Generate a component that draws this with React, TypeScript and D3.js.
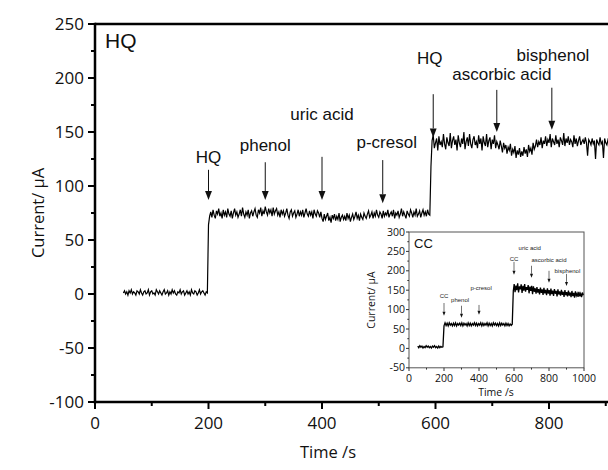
import React from 'react';
import * as d3 from 'd3';

// ---------- Main chart data (HQ) ----------
const hqBaseStart = 50;
const hqBaseStep = 2;
const hqBaseline = [
  1,3,0,2,-1,3,1,4,0,2,1,-1,3,2,0,4,1,-1,2,3,0,1,4,-1,2,
  3,0,1,-1,4,2,0,3,1,-1,2,4,0,1,3,-1,2,0,4,1,3,0,-1,2,1,
  4,0,2,3,-1,1,3,0,2,-1,4,1,0,3,2,-1,1,4,0,2,3,1,-1,2,1];
const hqStep1Start = 200;
const hqStep1Step = 2;
const hqStep1 = [
  64,72,76,71,78,73,70,77,74,79,72,75,70,78,73,76,71,79,74,72,
  77,70,75,79,73,76,71,74,78,72,80,74,71,76,73,78,70,75,77,72,
  76,79,73,71,78,75,80,72,77,74,81,76,73,79,75,78,72,80,74,77,
  79,73,76,71,78,74,77,72,75,79,73,70,76,78,72,75,77,71,74,78,
  72,76,73,78,71,75,79,74,72,77,73,76,70,78,74,72,77,75,71,76,
  70,67,74,69,72,75,68,71,66,73,70,74,68,72,69,75,67,71,73,69,
  72,68,75,70,73,67,71,74,69,72,76,70,73,68,74,71,69,75,72,70,
  74,77,71,73,76,70,75,72,78,73,71,76,74,70,77,72,75,73,78,71,
  74,76,72,78,70,75,73,77,71,74,79,72,76,73,70,77,74,72,78,75,
  71,76,73,79,72,74,77,71,75,78,73,76,72,78,74,73];
const hqStep2Start = 592;
const hqStep2Step = 2;
const hqStep2 = [
  118,142,147,135,140,144,133,146,138,141,136,148,139,134,145,140,137,149,135,142,
  146,138,143,133,147,140,136,144,139,150,134,141,145,137,148,139,135,143,146,138,
  141,135,147,139,144,133,146,140,137,148,136,142,145,134,143,139,147,135,141,138,
  134,142,137,131,140,135,138,130,136,133,139,128,134,131,137,126,133,129,135,127,
  132,128,136,130,134,127,138,132,135,129,140,134,137,143,136,141,138,145,135,142,
  139,146,137,143,140,148,136,144,141,138,147,139,143,136,145,142,138,149,137,144,
  140,146,138,143,141,136,147,139,144,137,142,146,138,141,143,139,145,140,128,143,
  141,138,144,139,142,125,143,140,138,145,139,141,126,144,140,138,143,141,129,142,
  140];

// ---------- Inset data (CC) ----------
const ccBaseStart = 50;
const ccBaseStep = 6;
const ccBaseline = [6,2,7,3,6,1,5,2,7,3,6,2,5,1,6,3,7,2,5,1,6,2,5,3,4];
const ccStep1Start = 200;
const ccStep1Step = 6;
const ccStep1 = [
  58,66,59,65,58,66,60,64,58,65,59,66,58,64,60,65,59,66,58,65,60,64,58,66,59,65,58,64,60,66,59,65,58,
  64,60,66,58,65,59,64,60,66,58,65,59,64,58,66,60,65,59,64,58,66,59,65,60,64,58,65,59,64,58,63,59,62];
const ccStep2Start = 596;
const ccStep2Step = 5;
const ccStep2 = [
  148,166,145,162,150,168,144,160,152,165,143,161,149,166,146,158,151,163,142,159,148,161,140,160,146,155,141,
  158,144,153,139,157,143,152,138,156,142,151,137,155,141,150,136,154,140,149,135,153,141,148,134,152,139,147,
  136,151,138,146,133,150,137,145,134,149,136,144,132,148,135,143,131,147,136,142,133,146,134,141,132,144,137];

// ---------- Ticks ----------
const mainYTicks = [-100, -50, 0, 50, 100, 150, 200, 250];
const mainYMinor = [-75, -25, 25, 75, 125, 175, 225];
const mainXTicks = [0, 200, 400, 600, 800, 1000];
const mainXMinor = [100, 300, 500, 700, 900];
const insetYTicks = [-50, 0, 50, 100, 150, 200, 250, 300];
const insetYMinor = [-25, 25, 75, 125, 175, 225, 275];
const insetXTicks = [0, 200, 400, 600, 800, 1000];
const insetXMinor = [100, 300, 500, 700, 900];

// ---------- Annotations (data units) ----------
const mainAnnLabels = ['HQ', 'phenol', 'uric acid', 'p-cresol', 'HQ', 'ascorbic acid', 'bisphenol'];
const mainAnnTime = [200, 300, 400, 507, 596, 708, 805];
const mainAnnTextTime = [200, 300, 400, 514, 590, 717, 807];
const mainAnnTextVal = [121, 132, 161, 135, 213, 198, 216];
const mainAnnTop = [115, 122, 127, 124, 185, 189, 191];
const mainAnnTip = [87, 87, 87, 84, 145, 150, 152];

const insetAnnLabels = ['CC', 'phenol', 'p-cresol', 'CC', 'uric acid', 'ascorbic acid', 'bisphenol'];
const insetAnnTime = [200, 300, 400, 600, 700, 800, 900];
const insetAnnTextTime = [200, 292, 412, 600, 690, 800, 905];
const insetAnnTextVal = [130, 119, 150, 226, 254, 223, 195];
const insetAnnTop = [117, 110, 112, 223, 213, 200, 192];
const insetAnnTip = [84, 79, 87, 190, 182, 169, 161];

function series(start: number, step: number, vals: number[]): [number, number][] {
  return vals.map((v, i) => [start + i * step, v]);
}

const hqData = [
  ...series(hqBaseStart, hqBaseStep, hqBaseline),
  ...series(hqStep1Start, hqStep1Step, hqStep1),
  ...series(hqStep2Start, hqStep2Step, hqStep2),
];
const ccData = [
  ...series(ccBaseStart, ccBaseStep, ccBaseline),
  ...series(ccStep1Start, ccStep1Step, ccStep1),
  ...series(ccStep2Start, ccStep2Step, ccStep2),
];

const TICK_FONT = "'Open Sans', 'DejaVu Sans', sans-serif";
const ANN_FONT = "'Liberation Sans', Arial, sans-serif";

function Arrow({ x, y1, y2, head, stroke }: { x: number; y1: number; y2: number; head: number; stroke: number }) {
  return (
    <g>
      <line x1={x} x2={x} y1={y1} y2={y2 - head} stroke="#111" strokeWidth={stroke} />
      <path d={`M${x - head * 0.38},${y2 - head} L${x + head * 0.38},${y2 - head} L${x},${y2} Z`} fill="#111" />
    </g>
  );
}

export default function App() {
  const W = 608, H = 470;
  const x = d3.scaleLinear().domain([0, 1000]).range([95, 662.5]);
  const y = d3.scaleLinear().domain([-100, 250]).range([402, 24]);
  const ix = d3.scaleLinear().domain([0, 1000]).range([409, 584]);
  const iy = d3.scaleLinear().domain([-50, 300]).range([367.8, 232]);

  const mainLine = d3.line<[number, number]>().x(d => x(d[0])).y(d => y(d[1]));
  const insetLine = d3.line<[number, number]>().x(d => ix(d[0])).y(d => iy(d[1]));

  return (
    <svg width={W} height={H} style={{ position: 'absolute', left: 0, top: 0, background: '#fff' }}>
      <defs>
        <clipPath id="mainClip">
          <rect x={95} y={24} width={W - 95} height={378} />
        </clipPath>
      </defs>
      <rect x={0} y={0} width={W} height={H} fill="#fff" />

      {/* main trace */}
      <path d={mainLine(hqData) || ''} fill="none" stroke="#000" strokeWidth={1.2} clipPath="url(#mainClip)" />

      {/* main axes */}
      <line x1={95} x2={W} y1={24} y2={24} stroke="#000" strokeWidth={2.5} />
      <line x1={95} x2={95} y1={22.8} y2={403.2} stroke="#000" strokeWidth={2.5} />
      <line x1={93.8} x2={W} y1={402} y2={402} stroke="#000" strokeWidth={2.5} />
      {mainYTicks.map(t => (
        <g key={'my' + t}>
          <line x1={88} x2={95} y1={y(t)} y2={y(t)} stroke="#000" strokeWidth={2} />
          <text x={84} y={y(t)} dy="0.35em" textAnchor="end" fontFamily={TICK_FONT} fontSize={17} fill="#111">{t}</text>
        </g>
      ))}
      {mainYMinor.map(t => (
        <line key={'mym' + t} x1={91} x2={95} y1={y(t)} y2={y(t)} stroke="#000" strokeWidth={2} />
      ))}
      {mainXTicks.filter(t => x(t) < W).map(t => (
        <g key={'mx' + t}>
          <line x1={x(t)} x2={x(t)} y1={402} y2={409} stroke="#000" strokeWidth={2} />
          <text x={x(t)} y={423} dy="0.35em" textAnchor="middle" fontFamily={TICK_FONT} fontSize={17} fill="#111">{t}</text>
        </g>
      ))}
      {mainXMinor.filter(t => x(t) < W).map(t => (
        <line key={'mxm' + t} x1={x(t)} x2={x(t)} y1={402} y2={406} stroke="#000" strokeWidth={2} />
      ))}
      <text transform={`translate(38,213) rotate(-90)`} textAnchor="middle" dy="0.35em" fontFamily={TICK_FONT} fontSize={16.5} fill="#111">Current/ µA</text>
      <text x={328} y={452} textAnchor="middle" dy="0.35em" fontFamily={TICK_FONT} fontSize={16.5} fill="#111">Time /s</text>
      <text x={105} y={48} fontFamily={ANN_FONT} fontSize={21} fill="#111">HQ</text>

      {/* main annotations */}
      {mainAnnLabels.map((lab, i) => (
        <g key={'ma' + i}>
          <text x={x(mainAnnTextTime[i])} y={y(mainAnnTextVal[i])} textAnchor="middle" fontFamily={ANN_FONT} fontSize={17} fill="#111">{lab}</text>
          <Arrow x={x(mainAnnTime[i])} y1={y(mainAnnTop[i])} y2={y(mainAnnTip[i])} head={9} stroke={1} />
        </g>
      ))}

      {/* inset */}
      <rect x={409} y={232} width={175} height={135.8} fill="#fff" stroke="#555" strokeWidth={1} />
      <path d={insetLine(ccData) || ''} fill="none" stroke="#000" strokeWidth={1.3} />
      {insetYTicks.map(t => (
        <g key={'iy' + t}>
          <line x1={406} x2={409} y1={iy(t)} y2={iy(t)} stroke="#333" strokeWidth={1} />
          <text x={405} y={iy(t)} dy="0.35em" textAnchor="end" fontFamily={TICK_FONT} fontSize={10.5} fill="#111">{t}</text>
        </g>
      ))}
      {insetYMinor.map(t => (
        <line key={'iym' + t} x1={407.3} x2={409} y1={iy(t)} y2={iy(t)} stroke="#333" strokeWidth={1} />
      ))}
      {insetXTicks.map(t => (
        <g key={'ix' + t}>
          <line x1={ix(t)} x2={ix(t)} y1={367.8} y2={371} stroke="#333" strokeWidth={1} />
          <text x={ix(t)} y={378.5} dy="0.35em" textAnchor="middle" fontFamily={TICK_FONT} fontSize={10.5} fill="#111">{t}</text>
        </g>
      ))}
      {insetXMinor.map(t => (
        <line key={'ixm' + t} x1={ix(t)} x2={ix(t)} y1={367.8} y2={369.6} stroke="#333" strokeWidth={1} />
      ))}
      <text transform={`translate(371,300) rotate(-90)`} textAnchor="middle" dy="0.35em" fontFamily={TICK_FONT} fontSize={10.5} fill="#111">Current/ µA</text>
      <text x={496} y={392} textAnchor="middle" dy="0.35em" fontFamily={TICK_FONT} fontSize={10.5} fill="#111">Time /s</text>
      <text x={414} y={248} fontFamily={ANN_FONT} fontSize={13} fill="#111">CC</text>
      {insetAnnLabels.map((lab, i) => (
        <g key={'ia' + i}>
          <text x={ix(insetAnnTextTime[i])} y={iy(insetAnnTextVal[i])} textAnchor="middle" fontFamily={ANN_FONT} fontSize={6} fill="#222">{lab}</text>
          <Arrow x={ix(insetAnnTime[i])} y1={iy(insetAnnTop[i])} y2={iy(insetAnnTip[i])} head={4} stroke={0.6} />
        </g>
      ))}
    </svg>
  );
}
